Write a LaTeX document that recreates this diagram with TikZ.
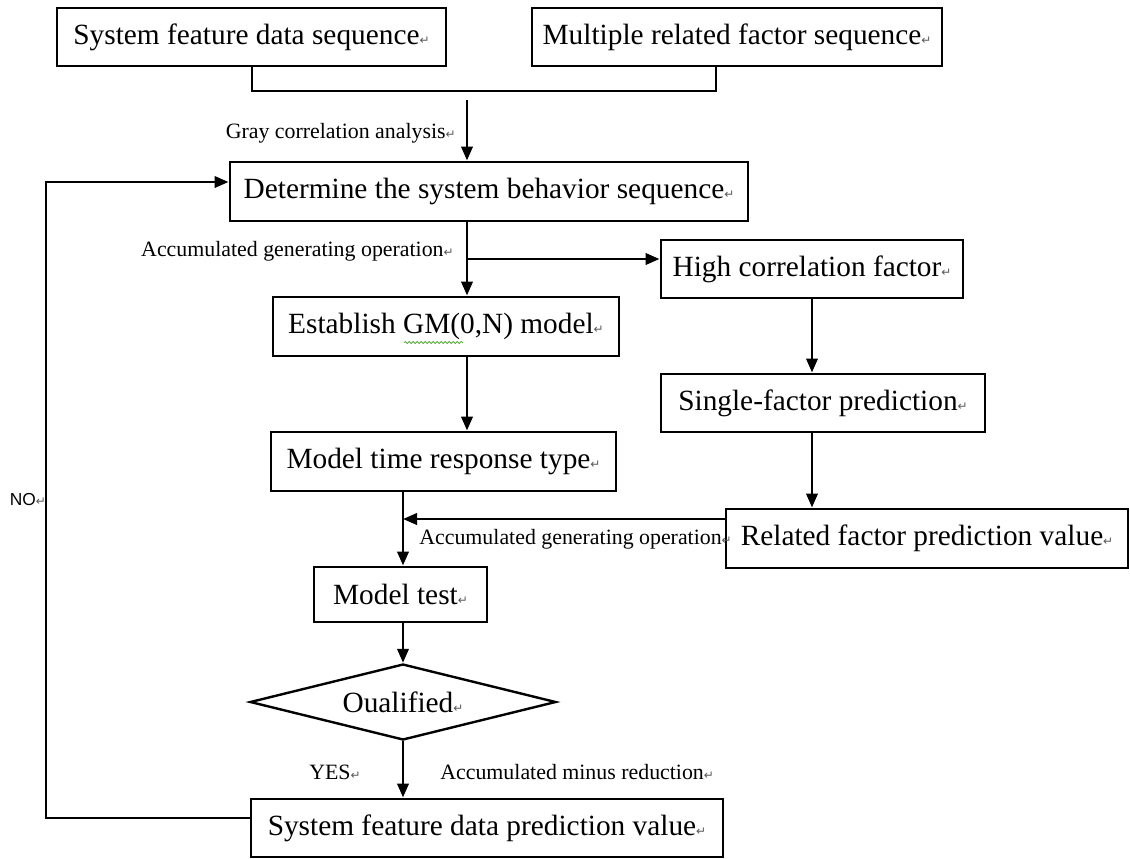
\documentclass[tikz,border=0pt]{standalone}
\usepackage{fontspec}
\setmainfont{Liberation Serif}
\newfontfamily\markfont{DejaVu Sans}
\newfontfamily\nofont{Liberation Sans}
\usetikzlibrary{arrows.meta,shapes.geometric,calc,decorations.pathmorphing}
\definecolor{wavegreen}{RGB}{90,170,60}
\newcommand\retmark{{\markfont\fontsize{9pt}{9pt}\selectfont\color{black!65}\char"21B5}}

\begin{document}
\begin{tikzpicture}[x=0.75pt,y=-0.75pt,line width=2pt,
    >={Triangle[length=10.5pt,width=8.5pt]}]
        \useasboundingbox (0,0) rectangle (1130,858);

        \begin{scope}[every node/.style={draw,line width=2.2pt,inner sep=0pt,
            font=\fontsize{22pt}{25pt}\selectfont}]
          \node[minimum width=291.75pt,minimum height=43.5pt] (1)  at (251.5,37)  {System feature data sequence\retmark};
          \node[minimum width=307.5pt,minimum height=43.5pt]  (2)  at (737,37)    {Multiple related factor sequence\retmark};
          \node[minimum width=388.5pt,minimum height=44.25pt] (3)  at (489,191.5) {Determine the system behavior sequence\retmark};
          \node[minimum width=226.5pt,minimum height=43.5pt]  (4)  at (812,269)   {High correlation factor\retmark};
          \node[minimum width=259.5pt,minimum height=44.25pt] (5)  at (446,326.5) {Establish GM(0,N) model\retmark};
          \node[minimum width=243pt,minimum height=43.5pt]    (6)  at (823,403)   {Single-factor prediction\retmark};
          \node[minimum width=258.75pt,minimum height=44.25pt] (7) at (443.5,461.5) {Model time response type\retmark};
          \node[minimum width=301.5pt,minimum height=44.25pt] (8)  at (927,538.5) {Related factor prediction value\retmark};
          \node[minimum width=129.75pt,minimum height=41.25pt] (9) at (400.5,594.5) {Model test\retmark};
          \node[diamond,aspect=4,line width=1.8pt,minimum width=229.5pt,minimum height=57pt] (10) at (403,702) {Oualified\retmark};
          \node[minimum width=354pt,minimum height=43.5pt]    (11) at (487,828)   {System feature data prediction value\retmark};
        \end{scope}

        \draw[wavegreen,line width=0.6pt,decorate,decoration={snake,segment length=3pt,amplitude=0.8pt}]
          ($(5.center)+(-42,16)$) -- ($(5.center)+(17,16)$);

        \coordinate (j1) at (252,91);
        \coordinate (j2) at (716,91);
        \coordinate (a1) at (467,100);
        \coordinate (b1) at (467,259);
        \coordinate (b2) at (403,519);
        \coordinate (l1) at (46,818);
        \coordinate (l2) at (46,182);

        \draw (1.south -| j1) -- (j1) -- (j2) -- (j2 |- 2.south);

        \begin{scope}[every edge/.style={draw,->}]
          \path (a1) edge (a1 |- 3.north);
          \path (3.south -| a1) edge (5.north -| a1);
          \path (b1) edge (b1 -| 4.west);
          \path (5.south -| a1) edge (7.north -| a1);
          \path (4.south) edge (6.north -| 4.south);
          \path (6.south -| 4.south) edge (8.north -| 4.south);
          \path (8.west |- b2) edge (b2);
          \path (7.south -| b2) edge (9.north -| b2);
          \path (9.south -| 10.north) edge (10.north);
          \path (10.south) edge (11.north -| 10.south);
        \end{scope}
        \draw[->] (11.west |- l1) -- (l1) -- (l2) -- (3.west |- l2);

        \begin{scope}[every node/.style={inner sep=0pt,font=\fontsize{16.4pt}{18pt}\selectfont}]
          \node[anchor=east] (g1) at (457,133) {Gray correlation analysis\retmark};
          \node[anchor=east] (g2) at (455,251) {Accumulated generating operation\retmark};
          \node[anchor=west] (g3) at (418,539) {Accumulated generating operation\retmark};
          \node[anchor=west] (g4) at (439,772) {Accumulated minus reduction\retmark};
          \node (g5) at (335,772) {YES\retmark};
          \node (g6) at (28,500) {\nofont\fontsize{13pt}{14pt}\selectfont NO\retmark};
        \end{scope}

      \end{tikzpicture}
\end{document}
